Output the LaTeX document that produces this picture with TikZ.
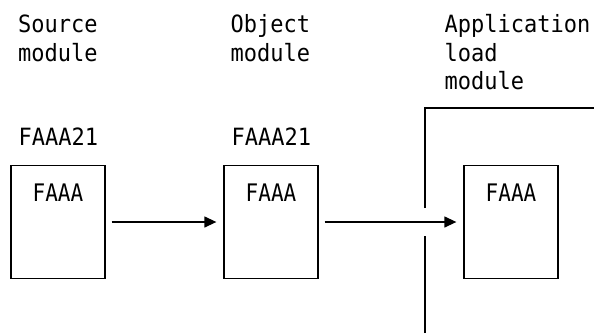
\documentclass[tikz,border=0pt]{standalone}
\usepackage{fontspec}
\usepackage{graphicx}
\setmonofont{DejaVu Sans Mono}
\usetikzlibrary{arrows.meta}
\newcommand{\tallt}[1]{\scalebox{1}[1.08]{#1}}
\begin{document}
\begin{tikzpicture}[x=1pt,y=-1pt,
  lbl/.style={anchor=base west,inner sep=0pt,font=\ttfamily\fontsize{22}{28}\selectfont},
  boxtxt/.style={anchor=base,inner sep=0pt,font=\ttfamily\fontsize{21}{28}\selectfont},
  modbox/.style={draw,line width=1.3pt,minimum width=94pt,minimum height=113pt,inner sep=0pt},
  conn/.style={line width=1.3pt,-{Triangle[length=12pt,width=11pt]}},
  wall/.style={line width=1.3pt}]
\useasboundingbox (0,0) rectangle (594,333);
% headings
\node[lbl] (src1) at (18,32) {\tallt{Source}};
\node[lbl] (src2) at (18,61.5) {\tallt{module}};
\node[lbl] (obj1) at (230.5,32) {\tallt{Object}};
\node[lbl] (obj2) at (230.5,61.5) {\tallt{module}};
\node[lbl] (app1) at (444.5,32) {\tallt{Application}};
\node[lbl] (app2) at (444.5,61) {\tallt{load}};
\node[lbl] (app3) at (444.5,89) {\tallt{module}};
% names
\node[lbl] (n1) at (18.5,145) {\tallt{FAAA21}};
\node[lbl] (n2) at (231.5,145) {\tallt{FAAA21}};
% boxes
\node[modbox] (b1) at (58,222) {};
\node[modbox] (b2) at (271,222) {};
\node[modbox] (b3) at (511,222) {};
\node[boxtxt] (t1) at ([yshift=-37pt]b1.north) {\scalebox{1}[1.15]{FAAA}};
\node[boxtxt] (t2) at ([yshift=-37pt]b2.north) {\scalebox{1}[1.15]{FAAA}};
\node[boxtxt] (t3) at ([yshift=-37pt]b3.north) {\scalebox{1}[1.15]{FAAA}};
% connectors
\draw[conn,shorten <=6pt,shorten >=7pt] (b1.east) -- (b2.west);
\draw[conn,shorten <=6pt,shorten >=7pt] (b2.east) -- (b3.west);
% boundary
\coordinate (w1) at (425,333);
\coordinate (w2) at (425,236);
\coordinate (w3) at (425,208);
\coordinate (w4) at (425,108);
\coordinate (w5) at (594,108);
\draw[wall] (w1) -- (w2);
\draw[wall] (w3) -- (w4) -- (w5);
\end{tikzpicture}
\end{document}
